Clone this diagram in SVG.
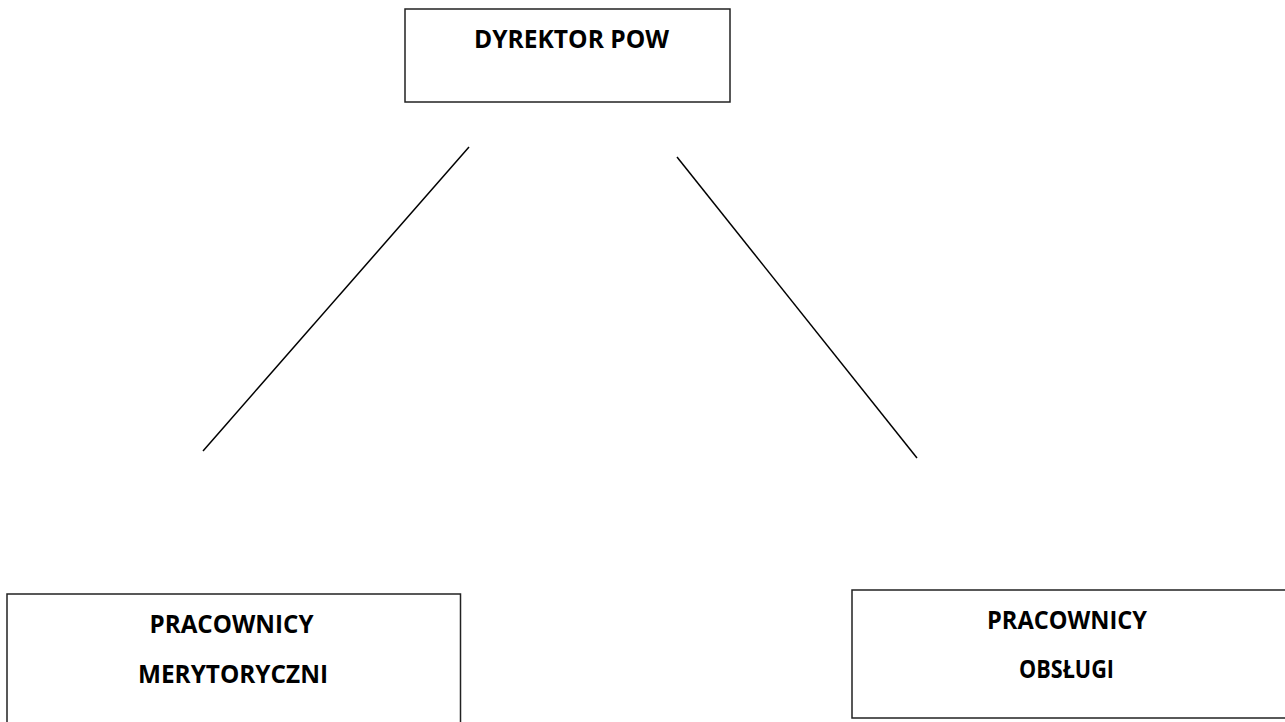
<svg xmlns="http://www.w3.org/2000/svg" width="1285" height="722" viewBox="0 0 1285 722">
<style>
.box{fill:#fff;stroke:#222;stroke-width:1.5}
.lbl{font-family:"Open Sans","Liberation Sans",sans-serif;font-weight:bold;fill:#000;text-anchor:middle;font-size:25px}
.conn{stroke:#000;stroke-width:1.5;fill:none}
</style>
<rect width="1285" height="722" fill="#fff"/>
<g id="connectors">
<line class="conn" x1="469" y1="147" x2="203" y2="451"/>
<line class="conn" x1="677" y1="157" x2="917" y2="458"/>
</g>
<g id="dyrektor">
<rect class="box" x="405" y="9" width="325" height="93"/>
<text class="lbl" x="571.5" y="48" textLength="195" lengthAdjust="spacingAndGlyphs">DYREKTOR POW</text>
</g>
<g id="merytoryczni">
<rect class="box" x="7" y="594" width="453.5" height="140"/>
<text class="lbl" x="231.5" y="633" textLength="164" lengthAdjust="spacingAndGlyphs">PRACOWNICY</text>
<text class="lbl" x="233" y="682.5" textLength="190" lengthAdjust="spacingAndGlyphs">MERYTORYCZNI</text>
</g>
<g id="obslugi">
<rect class="box" x="852" y="590" width="440" height="128"/>
<text class="lbl" x="1067" y="628.5" textLength="160" lengthAdjust="spacingAndGlyphs">PRACOWNICY</text>
<text class="lbl" x="1066.5" y="677.5" textLength="95" lengthAdjust="spacingAndGlyphs">OBSŁUGI</text>
</g>
</svg>
